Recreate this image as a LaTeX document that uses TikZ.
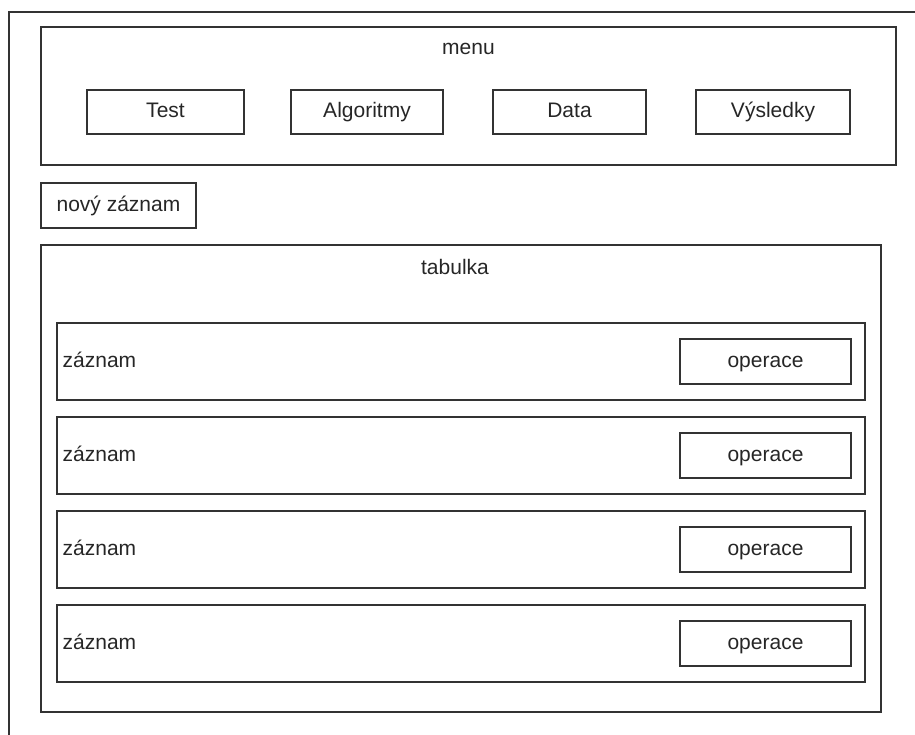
\documentclass[tikz,border=0pt]{standalone}
\usepackage{fontspec}
\setmainfont{Liberation Sans}
\begin{document}
\begin{tikzpicture}[x=1pt,y=-1pt,
  box/.style={draw=black!80,line width=1.3pt,rectangle,inner sep=0pt},
  txt/.style={font=\fontsize{21}{25}\selectfont,text=black!85,inner sep=0pt,
    text height=12pt,text depth=0pt}]
\useasboundingbox (0,0) rectangle (915,735);
\draw[black!80,line width=1.3pt] (9,735)--(9,12)--(915,12);

% menu
\node[box,minimum width=855,minimum height=138] (menu) at (468.5,96) {};
\node[txt] (menulbl) at (468.5,49) {menu};
\node[box,txt,minimum width=157,minimum height=44] (test) at (165.5,112) {Test};
\node[box,txt,minimum width=152,minimum height=44] (alg) at (367,112) {Algoritmy};
\node[box,txt,minimum width=153,minimum height=44] (data) at (569.5,112) {Data};
\node[box,txt,minimum width=154,minimum height=44] (vysl) at (773,112) {Výsledky};

\node[box,txt,minimum width=155,minimum height=45] (novy) at (118.5,205.5) {nový záznam};

% tabulka
\node[box,minimum width=840,minimum height=467] (tab) at (461,478.5) {};
\node[txt] (tablbl) at (455,269) {tabulka};
\foreach \i/\y in {1/361.5,2/455.5,3/549.5,4/643.5}{
  \node[box,minimum width=808,minimum height=77] (row\i) at (461,\y) {};
  \node[txt,anchor=west] (zaz\i) at (62.5,\y) {záznam};
  \node[box,txt,minimum width=171,minimum height=45] (op\i) at (765.5,\y) {operace};
}
\end{tikzpicture}
\end{document}
